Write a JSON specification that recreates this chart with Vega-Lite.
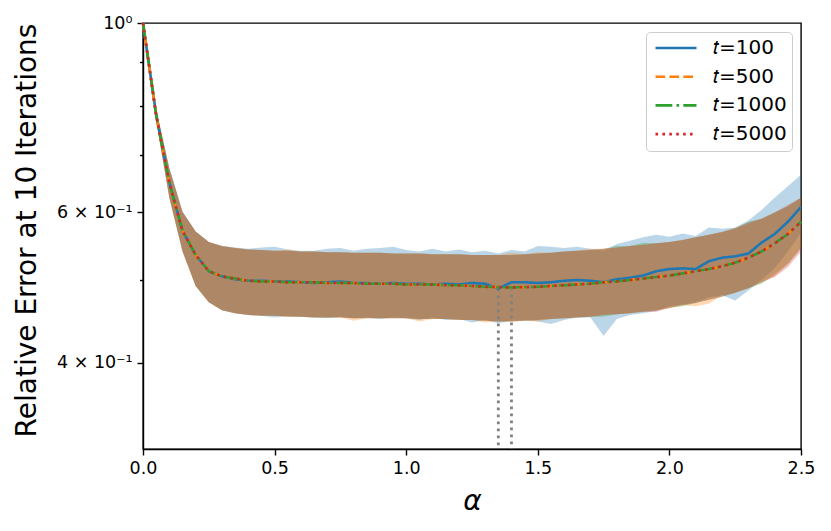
{
  "$schema": "https://vega.github.io/schema/vega-lite/v6.json",
  "width": 658,
  "height": 426,
  "autosize": {"type": "none"},
  "padding": {"left": 143, "top": 23, "right": 30, "bottom": 82},
  "config": {
    "font": "DejaVu Sans",
    "view": {"stroke": "black", "strokeWidth": 1.4},
    "axis": {"grid": false, "labelFlush": false, "labelOverlap": false, "domainColor": "black", "domainWidth": 1.4, "tickColor": "black", "tickWidth": 1.4, "labelColor": "black", "titleColor": "black", "labelFont": "DejaVu Sans", "titleFont": "DejaVu Sans", "titleFontWeight": "normal"},
    "legend": {"title": null, "orient": "top-right", "offset": 9, "padding": 5, "fillColor": "white", "strokeColor": "#cccccc", "cornerRadius": 4, "labelFontSize": 20, "labelFont": "DejaVu Sans", "labelColor": "black", "symbolType": "stroke", "symbolSize": 1681, "symbolStrokeWidth": 2.6, "symbolOpacity": 1, "symbolOffset": 3, "labelOffset": 15, "rowPadding": 6.7, "clipHeight": 22}
  },
  "datasets": {
    "d": [
      {"a":0.00,"s":"100","m":1.000,"lo":1.000,"hi":1.000},
      {"a":0.05,"s":"100","m":0.781,"lo":0.769,"hi":0.793},
      {"a":0.10,"s":"100","m":0.651,"lo":0.625,"hi":0.677},
      {"a":0.15,"s":"100","m":0.571,"lo":0.541,"hi":0.601},
      {"a":0.20,"s":"100","m":0.535,"lo":0.492,"hi":0.570},
      {"a":0.25,"s":"100","m":0.512,"lo":0.471,"hi":0.554},
      {"a":0.30,"s":"100","m":0.505,"lo":0.461,"hi":0.548},
      {"a":0.35,"s":"100","m":0.501,"lo":0.457,"hi":0.546},
      {"a":0.40,"s":"100","m":0.499,"lo":0.455,"hi":0.544},
      {"a":0.45,"s":"100","m":0.499,"lo":0.454,"hi":0.546},
      {"a":0.50,"s":"100","m":0.498,"lo":0.452,"hi":0.547},
      {"a":0.55,"s":"100","m":0.498,"lo":0.454,"hi":0.543},
      {"a":0.60,"s":"100","m":0.497,"lo":0.453,"hi":0.541},
      {"a":0.65,"s":"100","m":0.496,"lo":0.452,"hi":0.541},
      {"a":0.70,"s":"100","m":0.497,"lo":0.451,"hi":0.544},
      {"a":0.75,"s":"100","m":0.498,"lo":0.453,"hi":0.545},
      {"a":0.80,"s":"100","m":0.496,"lo":0.451,"hi":0.541},
      {"a":0.85,"s":"100","m":0.496,"lo":0.452,"hi":0.544},
      {"a":0.90,"s":"100","m":0.495,"lo":0.450,"hi":0.545},
      {"a":0.95,"s":"100","m":0.496,"lo":0.452,"hi":0.547},
      {"a":1.00,"s":"100","m":0.495,"lo":0.451,"hi":0.542},
      {"a":1.05,"s":"100","m":0.495,"lo":0.449,"hi":0.540},
      {"a":1.10,"s":"100","m":0.494,"lo":0.452,"hi":0.544},
      {"a":1.15,"s":"100","m":0.495,"lo":0.449,"hi":0.540},
      {"a":1.20,"s":"100","m":0.494,"lo":0.450,"hi":0.543},
      {"a":1.25,"s":"100","m":0.496,"lo":0.446,"hi":0.539},
      {"a":1.30,"s":"100","m":0.495,"lo":0.449,"hi":0.541},
      {"a":1.35,"s":"100","m":0.4887,"lo":0.445,"hi":0.537},
      {"a":1.40,"s":"100","m":0.497,"lo":0.448,"hi":0.542},
      {"a":1.45,"s":"100","m":0.497,"lo":0.449,"hi":0.540},
      {"a":1.50,"s":"100","m":0.496,"lo":0.447,"hi":0.548},
      {"a":1.55,"s":"100","m":0.497,"lo":0.444,"hi":0.547},
      {"a":1.60,"s":"100","m":0.499,"lo":0.449,"hi":0.545},
      {"a":1.65,"s":"100","m":0.500,"lo":0.452,"hi":0.547},
      {"a":1.70,"s":"100","m":0.499,"lo":0.452,"hi":0.544},
      {"a":1.75,"s":"100","m":0.497,"lo":0.430,"hi":0.541},
      {"a":1.80,"s":"100","m":0.501,"lo":0.450,"hi":0.551},
      {"a":1.85,"s":"100","m":0.503,"lo":0.455,"hi":0.556},
      {"a":1.90,"s":"100","m":0.506,"lo":0.457,"hi":0.561},
      {"a":1.95,"s":"100","m":0.512,"lo":0.460,"hi":0.565},
      {"a":2.00,"s":"100","m":0.515,"lo":0.466,"hi":0.562},
      {"a":2.05,"s":"100","m":0.516,"lo":0.468,"hi":0.567},
      {"a":2.10,"s":"100","m":0.515,"lo":0.471,"hi":0.563},
      {"a":2.15,"s":"100","m":0.526,"lo":0.477,"hi":0.576},
      {"a":2.20,"s":"100","m":0.531,"lo":0.480,"hi":0.574},
      {"a":2.25,"s":"100","m":0.533,"lo":0.473,"hi":0.576},
      {"a":2.30,"s":"100","m":0.537,"lo":0.486,"hi":0.587},
      {"a":2.35,"s":"100","m":0.553,"lo":0.500,"hi":0.604},
      {"a":2.40,"s":"100","m":0.566,"lo":0.516,"hi":0.624},
      {"a":2.45,"s":"100","m":0.585,"lo":0.540,"hi":0.644},
      {"a":2.50,"s":"100","m":0.609,"lo":0.568,"hi":0.664},

      {"a":0.00,"s":"500","m":1.000,"lo":1.000,"hi":1.000},
      {"a":0.05,"s":"500","m":0.780,"lo":0.768,"hi":0.792},
      {"a":0.10,"s":"500","m":0.650,"lo":0.624,"hi":0.676},
      {"a":0.15,"s":"500","m":0.571,"lo":0.540,"hi":0.601},
      {"a":0.20,"s":"500","m":0.535,"lo":0.492,"hi":0.570},
      {"a":0.25,"s":"500","m":0.512,"lo":0.471,"hi":0.554},
      {"a":0.30,"s":"500","m":0.505,"lo":0.461,"hi":0.548},
      {"a":0.35,"s":"500","m":0.502,"lo":0.457,"hi":0.545},
      {"a":0.40,"s":"500","m":0.499,"lo":0.455,"hi":0.543},
      {"a":0.45,"s":"500","m":0.498,"lo":0.454,"hi":0.542},
      {"a":0.50,"s":"500","m":0.498,"lo":0.454,"hi":0.541},
      {"a":0.55,"s":"500","m":0.497,"lo":0.453,"hi":0.543},
      {"a":0.60,"s":"500","m":0.497,"lo":0.453,"hi":0.540},
      {"a":0.65,"s":"500","m":0.497,"lo":0.452,"hi":0.540},
      {"a":0.70,"s":"500","m":0.496,"lo":0.452,"hi":0.539},
      {"a":0.75,"s":"500","m":0.496,"lo":0.452,"hi":0.539},
      {"a":0.80,"s":"500","m":0.496,"lo":0.448,"hi":0.538},
      {"a":0.85,"s":"500","m":0.495,"lo":0.451,"hi":0.538},
      {"a":0.90,"s":"500","m":0.495,"lo":0.451,"hi":0.538},
      {"a":0.95,"s":"500","m":0.495,"lo":0.451,"hi":0.537},
      {"a":1.00,"s":"500","m":0.494,"lo":0.451,"hi":0.537},
      {"a":1.05,"s":"500","m":0.494,"lo":0.447,"hi":0.537},
      {"a":1.10,"s":"500","m":0.494,"lo":0.450,"hi":0.536},
      {"a":1.15,"s":"500","m":0.493,"lo":0.450,"hi":0.536},
      {"a":1.20,"s":"500","m":0.493,"lo":0.449,"hi":0.536},
      {"a":1.25,"s":"500","m":0.492,"lo":0.449,"hi":0.535},
      {"a":1.30,"s":"500","m":0.491,"lo":0.446,"hi":0.535},
      {"a":1.35,"s":"500","m":0.4905,"lo":0.447,"hi":0.535},
      {"a":1.40,"s":"500","m":0.490,"lo":0.447,"hi":0.538},
      {"a":1.45,"s":"500","m":0.4905,"lo":0.448,"hi":0.536},
      {"a":1.50,"s":"500","m":0.491,"lo":0.447,"hi":0.539},
      {"a":1.55,"s":"500","m":0.492,"lo":0.450,"hi":0.538},
      {"a":1.60,"s":"500","m":0.493,"lo":0.451,"hi":0.540},
      {"a":1.65,"s":"500","m":0.494,"lo":0.452,"hi":0.541},
      {"a":1.70,"s":"500","m":0.495,"lo":0.453,"hi":0.544},
      {"a":1.75,"s":"500","m":0.497,"lo":0.455,"hi":0.544},
      {"a":1.80,"s":"500","m":0.498,"lo":0.456,"hi":0.546},
      {"a":1.85,"s":"500","m":0.500,"lo":0.457,"hi":0.548},
      {"a":1.90,"s":"500","m":0.502,"lo":0.459,"hi":0.550},
      {"a":1.95,"s":"500","m":0.504,"lo":0.461,"hi":0.552},
      {"a":2.00,"s":"500","m":0.506,"lo":0.463,"hi":0.554},
      {"a":2.05,"s":"500","m":0.509,"lo":0.467,"hi":0.557},
      {"a":2.10,"s":"500","m":0.512,"lo":0.466,"hi":0.561},
      {"a":2.15,"s":"500","m":0.515,"lo":0.469,"hi":0.565},
      {"a":2.20,"s":"500","m":0.519,"lo":0.480,"hi":0.569},
      {"a":2.25,"s":"500","m":0.524,"lo":0.483,"hi":0.575},
      {"a":2.30,"s":"500","m":0.531,"lo":0.489,"hi":0.582},
      {"a":2.35,"s":"500","m":0.540,"lo":0.497,"hi":0.590},
      {"a":2.40,"s":"500","m":0.552,"lo":0.505,"hi":0.600},
      {"a":2.45,"s":"500","m":0.566,"lo":0.522,"hi":0.610},
      {"a":2.50,"s":"500","m":0.585,"lo":0.545,"hi":0.624},

      {"a":0.00,"s":"1000","m":1.000,"lo":1.000,"hi":1.000},
      {"a":0.05,"s":"1000","m":0.780,"lo":0.768,"hi":0.792},
      {"a":0.10,"s":"1000","m":0.650,"lo":0.624,"hi":0.676},
      {"a":0.15,"s":"1000","m":0.571,"lo":0.540,"hi":0.601},
      {"a":0.20,"s":"1000","m":0.535,"lo":0.492,"hi":0.570},
      {"a":0.25,"s":"1000","m":0.512,"lo":0.471,"hi":0.554},
      {"a":0.30,"s":"1000","m":0.505,"lo":0.461,"hi":0.548},
      {"a":0.35,"s":"1000","m":0.502,"lo":0.457,"hi":0.545},
      {"a":0.40,"s":"1000","m":0.499,"lo":0.455,"hi":0.543},
      {"a":0.45,"s":"1000","m":0.498,"lo":0.454,"hi":0.542},
      {"a":0.50,"s":"1000","m":0.498,"lo":0.454,"hi":0.541},
      {"a":0.55,"s":"1000","m":0.497,"lo":0.453,"hi":0.541},
      {"a":0.60,"s":"1000","m":0.497,"lo":0.453,"hi":0.540},
      {"a":0.65,"s":"1000","m":0.497,"lo":0.452,"hi":0.540},
      {"a":0.70,"s":"1000","m":0.496,"lo":0.452,"hi":0.539},
      {"a":0.75,"s":"1000","m":0.496,"lo":0.452,"hi":0.539},
      {"a":0.80,"s":"1000","m":0.496,"lo":0.451,"hi":0.538},
      {"a":0.85,"s":"1000","m":0.495,"lo":0.451,"hi":0.538},
      {"a":0.90,"s":"1000","m":0.495,"lo":0.451,"hi":0.538},
      {"a":0.95,"s":"1000","m":0.495,"lo":0.451,"hi":0.537},
      {"a":1.00,"s":"1000","m":0.494,"lo":0.451,"hi":0.537},
      {"a":1.05,"s":"1000","m":0.494,"lo":0.450,"hi":0.537},
      {"a":1.10,"s":"1000","m":0.494,"lo":0.450,"hi":0.536},
      {"a":1.15,"s":"1000","m":0.493,"lo":0.450,"hi":0.536},
      {"a":1.20,"s":"1000","m":0.493,"lo":0.449,"hi":0.536},
      {"a":1.25,"s":"1000","m":0.492,"lo":0.449,"hi":0.535},
      {"a":1.30,"s":"1000","m":0.491,"lo":0.448,"hi":0.535},
      {"a":1.35,"s":"1000","m":0.4905,"lo":0.447,"hi":0.535},
      {"a":1.40,"s":"1000","m":0.490,"lo":0.447,"hi":0.535},
      {"a":1.45,"s":"1000","m":0.4905,"lo":0.448,"hi":0.536},
      {"a":1.50,"s":"1000","m":0.491,"lo":0.449,"hi":0.537},
      {"a":1.55,"s":"1000","m":0.492,"lo":0.450,"hi":0.538},
      {"a":1.60,"s":"1000","m":0.493,"lo":0.451,"hi":0.540},
      {"a":1.65,"s":"1000","m":0.494,"lo":0.452,"hi":0.541},
      {"a":1.70,"s":"1000","m":0.495,"lo":0.453,"hi":0.542},
      {"a":1.75,"s":"1000","m":0.497,"lo":0.453,"hi":0.544},
      {"a":1.80,"s":"1000","m":0.498,"lo":0.456,"hi":0.548},
      {"a":1.85,"s":"1000","m":0.500,"lo":0.457,"hi":0.548},
      {"a":1.90,"s":"1000","m":0.502,"lo":0.459,"hi":0.553},
      {"a":1.95,"s":"1000","m":0.504,"lo":0.461,"hi":0.552},
      {"a":2.00,"s":"1000","m":0.506,"lo":0.464,"hi":0.554},
      {"a":2.05,"s":"1000","m":0.509,"lo":0.466,"hi":0.557},
      {"a":2.10,"s":"1000","m":0.512,"lo":0.470,"hi":0.561},
      {"a":2.15,"s":"1000","m":0.515,"lo":0.474,"hi":0.565},
      {"a":2.20,"s":"1000","m":0.519,"lo":0.478,"hi":0.569},
      {"a":2.25,"s":"1000","m":0.524,"lo":0.483,"hi":0.575},
      {"a":2.30,"s":"1000","m":0.531,"lo":0.489,"hi":0.585},
      {"a":2.35,"s":"1000","m":0.540,"lo":0.495,"hi":0.590},
      {"a":2.40,"s":"1000","m":0.552,"lo":0.508,"hi":0.600},
      {"a":2.45,"s":"1000","m":0.566,"lo":0.522,"hi":0.610},
      {"a":2.50,"s":"1000","m":0.585,"lo":0.545,"hi":0.624},

      {"a":0.00,"s":"5000","m":1.000,"lo":1.000,"hi":1.000},
      {"a":0.05,"s":"5000","m":0.780,"lo":0.768,"hi":0.792},
      {"a":0.10,"s":"5000","m":0.650,"lo":0.624,"hi":0.676},
      {"a":0.15,"s":"5000","m":0.571,"lo":0.540,"hi":0.601},
      {"a":0.20,"s":"5000","m":0.535,"lo":0.492,"hi":0.570},
      {"a":0.25,"s":"5000","m":0.512,"lo":0.471,"hi":0.554},
      {"a":0.30,"s":"5000","m":0.505,"lo":0.461,"hi":0.548},
      {"a":0.35,"s":"5000","m":0.502,"lo":0.457,"hi":0.545},
      {"a":0.40,"s":"5000","m":0.499,"lo":0.455,"hi":0.543},
      {"a":0.45,"s":"5000","m":0.498,"lo":0.454,"hi":0.542},
      {"a":0.50,"s":"5000","m":0.498,"lo":0.454,"hi":0.541},
      {"a":0.55,"s":"5000","m":0.497,"lo":0.453,"hi":0.541},
      {"a":0.60,"s":"5000","m":0.497,"lo":0.453,"hi":0.540},
      {"a":0.65,"s":"5000","m":0.497,"lo":0.452,"hi":0.540},
      {"a":0.70,"s":"5000","m":0.496,"lo":0.452,"hi":0.539},
      {"a":0.75,"s":"5000","m":0.496,"lo":0.452,"hi":0.539},
      {"a":0.80,"s":"5000","m":0.496,"lo":0.451,"hi":0.538},
      {"a":0.85,"s":"5000","m":0.495,"lo":0.451,"hi":0.538},
      {"a":0.90,"s":"5000","m":0.495,"lo":0.451,"hi":0.538},
      {"a":0.95,"s":"5000","m":0.495,"lo":0.451,"hi":0.537},
      {"a":1.00,"s":"5000","m":0.494,"lo":0.451,"hi":0.537},
      {"a":1.05,"s":"5000","m":0.494,"lo":0.450,"hi":0.537},
      {"a":1.10,"s":"5000","m":0.494,"lo":0.450,"hi":0.536},
      {"a":1.15,"s":"5000","m":0.493,"lo":0.450,"hi":0.536},
      {"a":1.20,"s":"5000","m":0.493,"lo":0.449,"hi":0.536},
      {"a":1.25,"s":"5000","m":0.492,"lo":0.449,"hi":0.535},
      {"a":1.30,"s":"5000","m":0.491,"lo":0.448,"hi":0.535},
      {"a":1.35,"s":"5000","m":0.4905,"lo":0.447,"hi":0.535},
      {"a":1.40,"s":"5000","m":0.490,"lo":0.447,"hi":0.535},
      {"a":1.45,"s":"5000","m":0.4905,"lo":0.448,"hi":0.536},
      {"a":1.50,"s":"5000","m":0.491,"lo":0.449,"hi":0.537},
      {"a":1.55,"s":"5000","m":0.492,"lo":0.450,"hi":0.538},
      {"a":1.60,"s":"5000","m":0.493,"lo":0.451,"hi":0.540},
      {"a":1.65,"s":"5000","m":0.494,"lo":0.452,"hi":0.541},
      {"a":1.70,"s":"5000","m":0.495,"lo":0.453,"hi":0.542},
      {"a":1.75,"s":"5000","m":0.497,"lo":0.455,"hi":0.544},
      {"a":1.80,"s":"5000","m":0.498,"lo":0.456,"hi":0.546},
      {"a":1.85,"s":"5000","m":0.500,"lo":0.457,"hi":0.548},
      {"a":1.90,"s":"5000","m":0.502,"lo":0.459,"hi":0.550},
      {"a":1.95,"s":"5000","m":0.504,"lo":0.459,"hi":0.552},
      {"a":2.00,"s":"5000","m":0.506,"lo":0.464,"hi":0.554},
      {"a":2.05,"s":"5000","m":0.509,"lo":0.467,"hi":0.557},
      {"a":2.10,"s":"5000","m":0.512,"lo":0.470,"hi":0.561},
      {"a":2.15,"s":"5000","m":0.515,"lo":0.474,"hi":0.565},
      {"a":2.20,"s":"5000","m":0.519,"lo":0.478,"hi":0.569},
      {"a":2.25,"s":"5000","m":0.524,"lo":0.483,"hi":0.575},
      {"a":2.30,"s":"5000","m":0.531,"lo":0.489,"hi":0.584},
      {"a":2.35,"s":"5000","m":0.540,"lo":0.497,"hi":0.590},
      {"a":2.40,"s":"5000","m":0.552,"lo":0.504,"hi":0.600},
      {"a":2.45,"s":"5000","m":0.566,"lo":0.518,"hi":0.612},
      {"a":2.50,"s":"5000","m":0.585,"lo":0.540,"hi":0.624}
    ],
    "mins": [
      {"a": 1.35, "v": 0.4887},
      {"a": 1.40, "v": 0.490}
    ]
  },
  "layer": [
    {
      "data": {"name": "d"},
      "mark": {"type": "area", "fillOpacity": 0.3},
      "encoding": {
        "x": {"field": "a", "type": "quantitative", "scale": {"domain": [0, 2.5], "nice": false, "zero": false},
              "axis": {"values": [0, 0.5, 1, 1.5, 2, 2.5], "format": ".1f", "labelFontSize": 17.5, "labelFlush": false, "tickSize": 6, "labelPadding": 4, "title": "α", "titleFontSize": 28, "titleFontStyle": "italic", "titleY": 52, "titleBaseline": "middle"}},
        "y": {"field": "lo", "type": "quantitative", "scale": {"type": "log", "domain": [0.317, 1], "nice": false},
              "axis": {"orient": "left", "values": [0.4, 0.6, 1], "labelFlush": false, "labelExpr": "datum.value == 1 ? '10⁰' : (datum.value == 0.6 ? '6 × 10⁻¹' : '4 × 10⁻¹')", "labelFontSize": 17.5, "tickSize": 6, "labelPadding": 5, "title": "Relative Error at 10 Iterations", "titleFontSize": 28, "titleX": -116, "titleY": 207, "titleAlign": "center", "titleBaseline": "middle", "titleAngle": -90}},
        "y2": {"field": "hi"},
        "fill": {"field": "s", "type": "nominal", "scale": {"domain": ["100", "500", "1000", "5000"], "range": ["#1f77b4", "#ff7f0e", "#2ca02c", "#d62728"]}, "legend": {"labelExpr": "'𝑡=' + datum.label"}}
      }
    },
    {
      "data": {"name": "mins"},
      "mark": {"type": "rule", "color": "#808080", "strokeWidth": 2.8, "strokeDash": [2.8, 4.2]},
      "encoding": {
        "x": {"field": "a", "type": "quantitative"},
        "y": {"field": "v", "type": "quantitative", "axis": null},
        "y2": {"datum": 0.317}
      }
    },
    {
      "data": {"name": "d"},
      "mark": {"type": "line", "strokeWidth": 2.6},
      "encoding": {
        "x": {"field": "a", "type": "quantitative"},
        "y": {"field": "m", "type": "quantitative", "axis": {"orient": "left", "values": [0.5, 0.7, 0.8, 0.9], "labels": false, "domain": false, "tickSize": 3.5, "title": null}},
        "color": {"field": "s", "type": "nominal", "scale": {"domain": ["100", "500", "1000", "5000"], "range": ["#1f77b4", "#ff7f0e", "#2ca02c", "#d62728"]}, "legend": {"labelExpr": "'𝑡=' + datum.label"}},
        "strokeDash": {"field": "s", "type": "nominal", "scale": {"domain": ["100", "500", "1000", "5000"], "range": [[1, 0], [9.7, 4.2], [16.8, 4.2, 2.6, 4.2], [2.6, 4.3]]}, "legend": {"labelExpr": "'𝑡=' + datum.label"}}
      }
    }
  ],
  "resolve": {"axis": {"y": "independent"}}
}
